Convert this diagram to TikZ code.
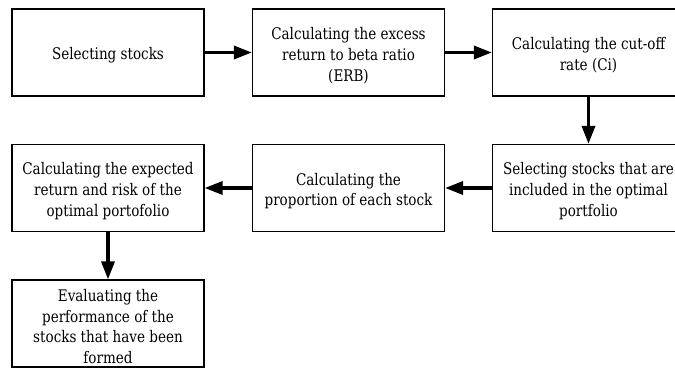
\documentclass[tikz,border=0pt]{standalone}
\usepackage{fontspec}
\setmainfont{DejaVu Serif}[FakeStretch=0.845]
\usetikzlibrary{arrows.meta}
\begin{document}
\begin{tikzpicture}[x=1pt,y=1pt,
  stepbox/.style={draw=black,line width=1.3pt,minimum width=192pt,minimum height=87pt,inner sep=0pt},
  txt/.style={inner sep=0pt,align=center,yshift=-3pt,font=\fontsize{16pt}{20.7pt}\selectfont},
  flow/.style={line width=3.5pt,-{Triangle[length=18pt,width=13pt]}}]
\useasboundingbox (0,0) rectangle (675,368);
\clip (0,0) rectangle (675,368);
\node[stepbox,label={[txt]center:{Selecting stocks}}] (b1) at (108,315.5) {};
\node[stepbox,label={[txt]center:{Calculating the excess\\return to beta ratio\\(ERB)}}] (b2) at (348.5,315.5) {};
\node[stepbox,label={[txt]center:{Calculating the cut-off\\rate (Ci)}}] (b3) at (588.5,315.5) {};
\node[stepbox,label={[txt]center:{Selecting stocks that are\\included in the optimal\\portfolio}}] (b4) at (588.5,180) {};
\node[stepbox,label={[txt]center:{Calculating the\\proportion of each stock}}] (b5) at (348.5,180) {};
\node[stepbox,label={[txt]center:{Calculating the expected\\return and risk of the\\optimal portofolio}}] (b6) at (108,180) {};
\node[stepbox,label={[txt]center:{Evaluating the\\performance of the\\stocks that have been\\formed}}] (b7) at (108,44.5) {};
\draw[flow] (b1) -- (b2);
\draw[flow] (b2) -- (b3);
\draw[flow] (b3) -- (b4);
\draw[flow] (b4) -- (b5);
\draw[flow] (b5) -- (b6);
\draw[flow] (b6) -- (b7);
\end{tikzpicture}
\end{document}
